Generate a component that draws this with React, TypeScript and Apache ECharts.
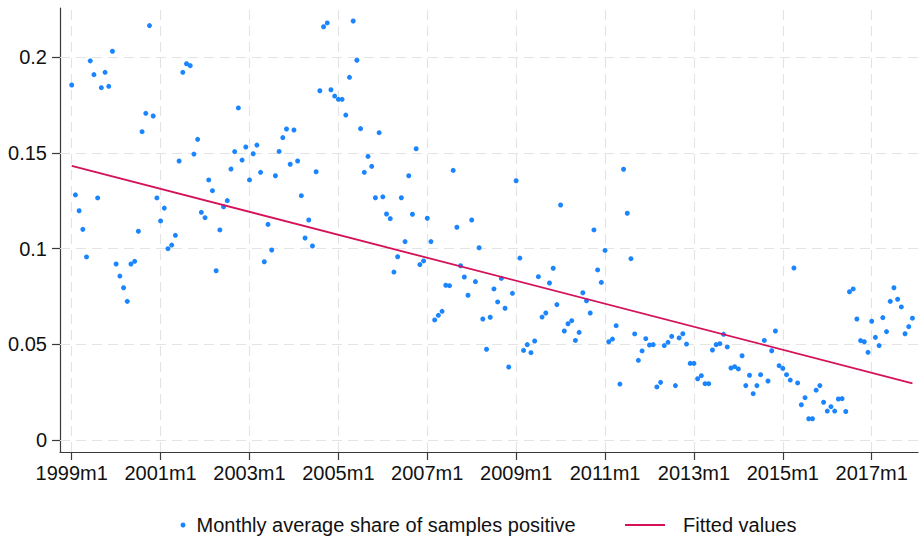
import React, { useEffect, useRef } from "react";
import * as echarts from "echarts";

// Monthly series, 1999m1 .. 2017m12 (index 0 = 1999m1)
const startYear = 1999;
const shareValues: number[] = [
  0.1854, 0.128, 0.1197, 0.110, 0.0956, 0.198, 0.1908, 0.1264, 0.184, 0.192, 0.1847, 0.203,
  0.0919, 0.0856, 0.0795, 0.0724, 0.0919, 0.0933, 0.109, 0.161, 0.1706, 0.2164, 0.1692, 0.1264,
  0.1144, 0.1211, 0.0999, 0.1018, 0.1069, 0.1457, 0.192, 0.1965, 0.1955, 0.1493, 0.157, 0.1189,
  0.1161, 0.1358, 0.1302, 0.0884, 0.1097, 0.1218, 0.125, 0.1415, 0.1506, 0.1734, 0.1462, 0.153,
  0.1358, 0.1495, 0.154, 0.1398, 0.0931, 0.1126, 0.0992, 0.138, 0.1507, 0.1579, 0.1624, 0.144,
  0.1619, 0.1457, 0.1276, 0.1055, 0.1149, 0.1013, 0.1401, 0.1824, 0.2158, 0.2178, 0.1829, 0.1796,
  0.1779, 0.1779, 0.1697, 0.1894, 0.2188, 0.1983, 0.1626, 0.1398, 0.1481, 0.1429, 0.1265, 0.1605,
  0.127, 0.118, 0.1156, 0.0877, 0.0957, 0.1265, 0.1036, 0.138, 0.1179, 0.1521, 0.0916, 0.0935,
  0.1158, 0.1036, 0.0627, 0.0651, 0.0672, 0.0808, 0.0806, 0.1408, 0.1111, 0.091, 0.0851, 0.0756,
  0.1149, 0.0827, 0.1004, 0.0632, 0.0474, 0.0641, 0.0789, 0.0721, 0.0844, 0.0688, 0.0381, 0.0766,
  0.1354, 0.095, 0.0468, 0.0498, 0.0456, 0.0517, 0.0853, 0.0642, 0.0663, 0.082, 0.0897, 0.0707,
  0.1227, 0.0569, 0.0607, 0.0623, 0.052, 0.0562, 0.0769, 0.0727, 0.0663, 0.1097, 0.0888, 0.0823,
  0.099, 0.0513, 0.0527, 0.0597, 0.0292, 0.1414, 0.1184, 0.0947, 0.0554, 0.0416, 0.0465, 0.0529,
  0.0496, 0.0498, 0.0277, 0.0301, 0.0493, 0.051, 0.0541, 0.0284, 0.0533, 0.0555, 0.0501, 0.040,
  0.040, 0.032, 0.0336, 0.0294, 0.0294, 0.047, 0.0498, 0.0503, 0.0552, 0.0486, 0.0376, 0.0383,
  0.0371, 0.044, 0.0284, 0.0338, 0.0242, 0.0284, 0.0341, 0.052, 0.0308, 0.0466, 0.0569, 0.0388,
  0.0374, 0.0341, 0.0313, 0.0898, 0.0298, 0.0184, 0.0221, 0.0111, 0.0111, 0.026, 0.0284, 0.0197,
  0.0151, 0.0174, 0.0151, 0.0214, 0.0216, 0.0149, 0.0774, 0.0789, 0.0632, 0.0519, 0.0513, 0.0458,
  0.062, 0.0536, 0.0493, 0.0639, 0.0566, 0.0724, 0.0795, 0.0735, 0.0695, 0.0555, 0.0592, 0.0636,
];

// Fitted (linear trend) values at the first and last month
const fittedMonths: number[] = [0, 227];
const fittedValues: number[] = [0.1432, 0.0296];

// Tick positions
const xTickMonths: number[] = [0, 24, 48, 72, 96, 120, 144, 168, 192, 216];
const yTickValues: number[] = [0, 0.05, 0.1, 0.15, 0.2];

const scatterName = "Monthly average share of samples positive";
const fitName = "Fitted values";

const FONT = "'Liberation Sans', Arial, Helvetica, sans-serif";
const FS = 20;

export default function App() {
  const ref = useRef<HTMLDivElement>(null);

  useEffect(() => {
    if (!ref.current) return;
    const chart = echarts.init(ref.current, undefined, { renderer: "svg" });

    const scatterData = shareValues.map((v, i) => [i, v]);
    const fitData = fittedMonths.map((m, i) => [m, fittedValues[i]]);

    const gridLineStyle = {
      color: "#e4e4e4",
      width: 1.2,
      type: [10, 6] as any,
    };

    const axisColor = "#3a3a3a";

    const option: any = {
      animation: false,
      backgroundColor: "#ffffff",
      textStyle: { fontFamily: FONT },
      grid: {
        left: 60,
        top: 8,
        right: 5,
        bottom: 87,
        containLabel: false,
        outerBoundsMode: "none",
      },
      xAxis: {
        type: "value",
        min: -3.16,
        max: 228.5,
        axisLine: { show: true, onZero: false, lineStyle: { color: axisColor, width: 1.2 } },
        axisTick: {
          show: true,
          length: 8,
          customValues: xTickMonths,
          lineStyle: { color: axisColor, width: 1.2 },
        },
        axisLabel: {
          customValues: xTickMonths,
          fontSize: FS,
          color: "#111",
          fontFamily: FONT,
          margin: 11,
          formatter: (v: number) => `${startYear + Math.round(v / 12)}m1`,
        },
        splitLine: { show: false },
      },
      yAxis: {
        type: "value",
        min: -0.00627,
        max: 0.2256,
        axisLine: { show: true, onZero: false, lineStyle: { color: axisColor, width: 1.2 } },
        axisTick: {
          show: true,
          length: 8,
          customValues: yTickValues,
          lineStyle: { color: axisColor, width: 1.2 },
        },
        axisLabel: {
          customValues: yTickValues,
          fontSize: FS,
          color: "#111",
          fontFamily: FONT,
          margin: 13,
          formatter: (v: number) => String(v),
        },
        splitLine: { show: false },
      },
      legend: [
        {
          data: [{ name: scatterName, icon: "circle" }],
          left: 175.5,
          top: 510,
          itemWidth: 5,
          itemHeight: 5,
          textStyle: { fontSize: FS, color: "#111", fontFamily: FONT, padding: [0, 0, 0, 6] },
          selectedMode: false,
        },
        {
          data: [{ name: fitName, icon: "rect" }],
          left: 620,
          top: 510,
          itemWidth: 40,
          itemHeight: 2,
          textStyle: { fontSize: FS, color: "#111", fontFamily: FONT, padding: [0, 0, 0, 13] },
          selectedMode: false,
        },
      ],
      series: [
        {
          name: "grid",
          type: "line",
          data: [],
          silent: true,
          z: 1,
          markLine: {
            silent: true,
            z: 1,
            symbol: ["none", "none"],
            label: { show: false },
            lineStyle: gridLineStyle,
            emphasis: { disabled: true },
            data: [
              ...yTickValues.map((v) => ({ yAxis: v })),
              ...xTickMonths.map((m) => ({ xAxis: m })),
            ],
          },
        },
        {
          name: scatterName,
          type: "scatter",
          data: scatterData,
          symbol: "circle",
          symbolSize: 5,
          z: 3,
          itemStyle: { color: "#1a85ff", opacity: 1 },
        },
        {
          name: fitName,
          type: "line",
          data: fitData,
          symbol: "none",
          z: 4,
          lineStyle: { color: "#d41159", width: 1.8 },
          itemStyle: { color: "#d41159" },
        },
      ],
    };

    chart.setOption(option);
    return () => chart.dispose();
  }, []);

  return (
    <div
      ref={ref}
      style={{ position: "fixed", left: 0, top: 0, width: 923, height: 539 }}
    />
  );
}
